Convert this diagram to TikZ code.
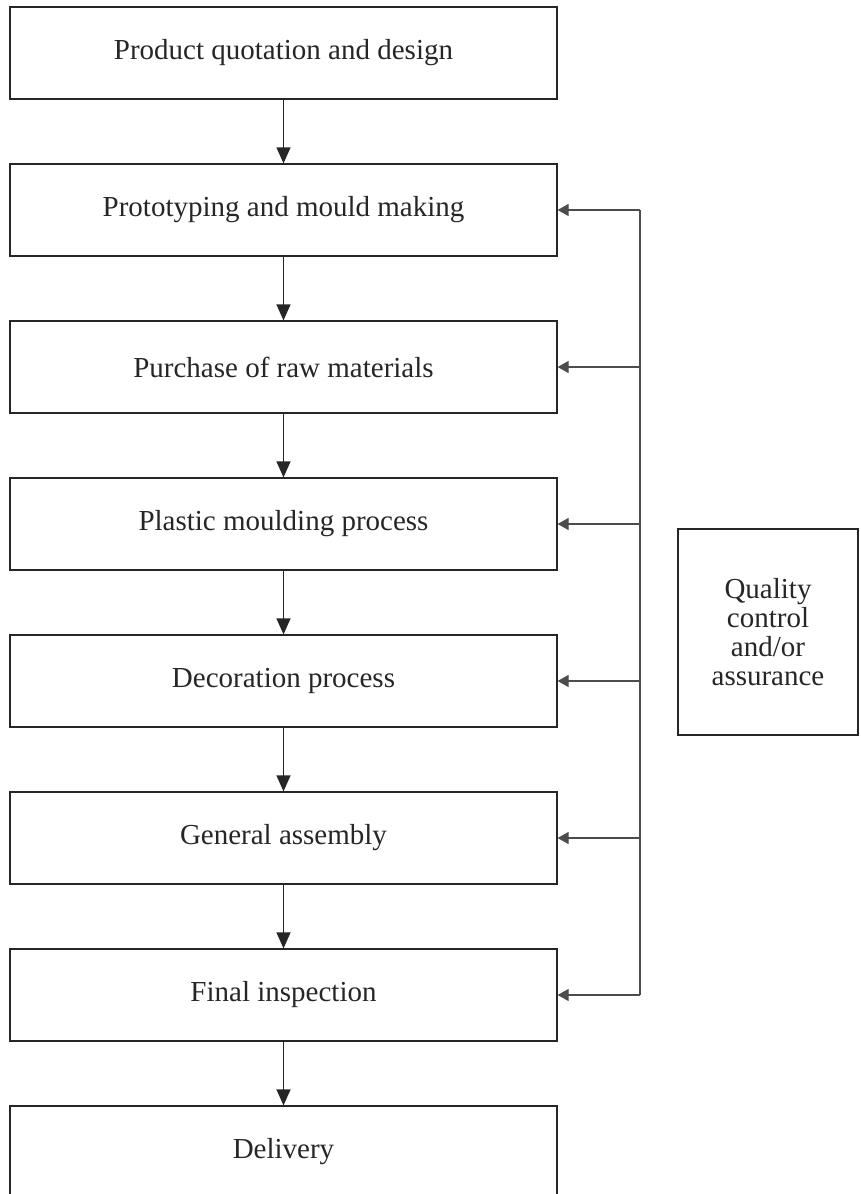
\documentclass[tikz,border=0pt]{standalone}
\usepackage{fontspec}
\setmainfont{Liberation Serif}
\usetikzlibrary{arrows.meta}

\tikzset{
  stepbox/.style={draw=black!85, line width=1.2pt, minimum width=547pt, minimum height=92pt,
    inner sep=0pt, text=black!85, font=\fontsize{29}{29}\selectfont},
  qcbox/.style={stepbox, minimum width=180pt, minimum height=206pt, align=center},
  flow/.style={draw=black!85, line width=1.2pt, -{Triangle[length=16pt,width=14pt]}},
  feed/.style={draw=black!70, line width=1.2pt, -{Triangle[length=11pt,width=12pt]}}
}

\begin{document}
\begin{tikzpicture}[x=1pt,y=-1pt]
	\useasboundingbox (0,0) rectangle (860,1194);
	\node[stepbox] (s1) at (283.5,53) {Product quotation and design};  % step 1
	\node[stepbox] (s2) at (283.5,210) {Prototyping and mould making};  % step 2
	\node[stepbox] (s3) at (283.5,367) {Purchase of raw materials};  % step 3
	\node[stepbox] (s4) at (283.5,524) {Plastic moulding process};  % step 4
	\node[stepbox] (s5) at (283.5,681) {Decoration process};  % step 5
	\node[stepbox] (s6) at (283.5,838) {General assembly};  % step 6
	\node[stepbox] (s7) at (283.5,995) {Final inspection};  % step 7
	\node[stepbox] (s8) at (283.5,1152) {Delivery};  % step 8
	\node[qcbox] (qc) at (768,632) {Quality\\control\\and/or\\assurance};  % QC
	\coordinate (bus) at (640,0);
	\foreach \i/\j in {1/2,2/3,3/4,4/5,5/6,6/7,7/8}
		\draw[flow] (s\i) -- (s\j);
	\draw[draw=black!70, line width=1.2pt] (bus |- s2.east) -- (bus |- s7.east);  % QC line
	\foreach \i in {2,...,7}
		\draw[feed] (bus |- s\i.east) -- (s\i.east);
\end{tikzpicture}
\end{document}
